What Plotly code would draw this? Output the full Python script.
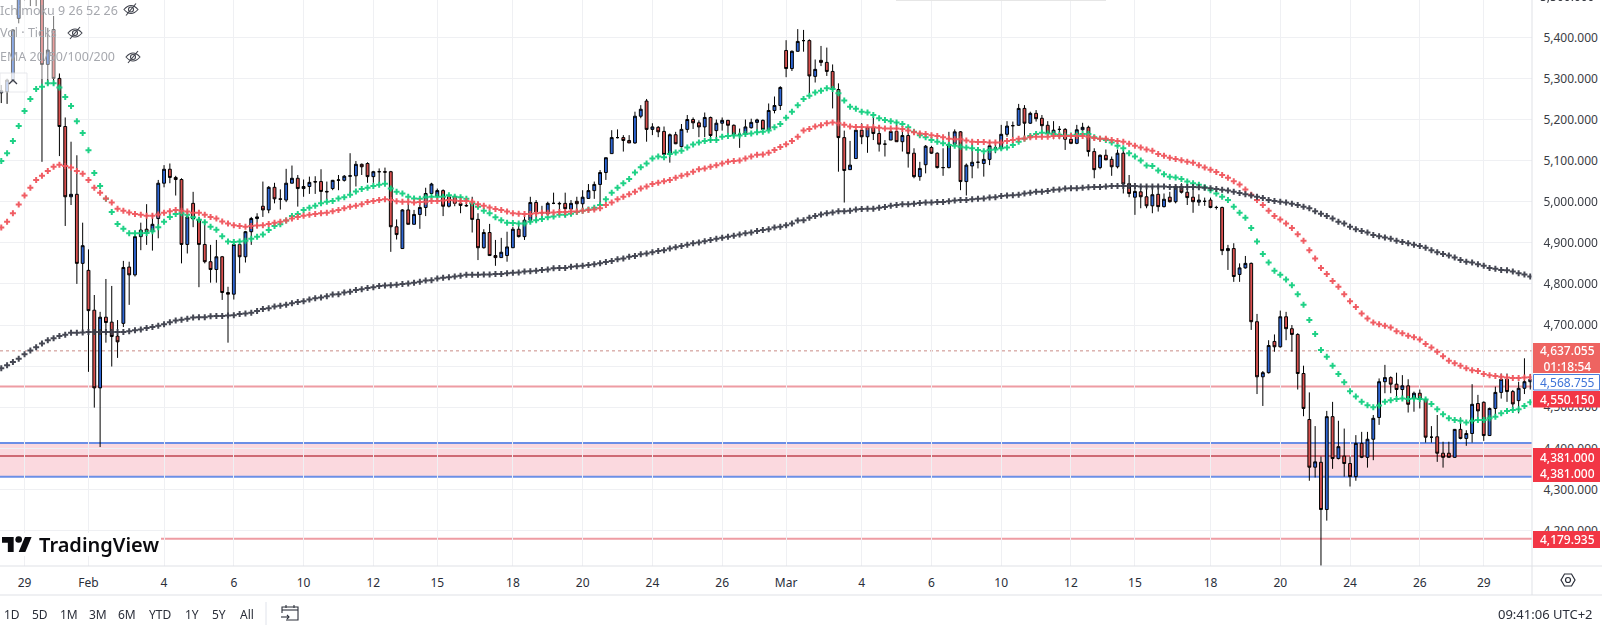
import plotly.graph_objects as go

W, H = 1602, 625
AXIS_X = 1532   # price scale starts here
AXIS_Y = 566    # time scale starts here

# candles, one bar per position
opens = [
    5265, 5268, 5296, 5446, 5500, 5580, 5510, 5520, 5334, 5419, 5300, 5183, 5012, 5018, 4850, 4833,
    4736, 4547, 4719, 4707, 4673, 4704, 4841, 4822, 4915, 4933, 4927, 4959, 5045, 5079, 5059, 5054,
    4896, 4996, 4957, 4896, 4854, 4835, 4866, 4779, 4775, 4896, 4866, 4927, 4959, 4989, 4980, 5035,
    5007, 5004, 5045, 5057, 5032, 5037, 5049, 5049, 5025, 5032, 5052, 5052, 5062, 5063, 5091, 5093,
    5061, 5073, 5073, 5073, 4939, 4886, 4980, 4945, 4969, 4986, 5020, 5014, 5027, 4989, 5013, 4996,
    4991, 4995, 4957, 4888, 4925, 4869, 4864, 4869, 4888, 4933, 4915, 4955, 4998, 4973, 4970, 4996,
    4996, 4996, 4982, 5001, 4995, 5008, 5027, 5042, 5071, 5117, 5156, 5156, 5149, 5143, 5208, 5245,
    5176, 5181, 5171, 5115, 5163, 5134, 5176, 5200, 5192, 5182, 5205, 5173, 5191, 5198, 5186, 5164,
    5165, 5180, 5193, 5198, 5176, 5222, 5234, 5368, 5324, 5366, 5392, 5392, 5305, 5344, 5339, 5317,
    5273, 5156, 5078, 5105, 5174, 5158, 5180, 5166, 5140, 5150, 5171, 5146, 5161, 5118, 5061, 5090,
    5132, 5118, 5083, 5083, 5140, 5170, 5049, 5087, 5096, 5093, 5103, 5130, 5129, 5164, 5185, 5186,
    5227, 5191, 5215, 5203, 5186, 5166, 5176, 5176, 5152, 5142, 5175, 5181, 5122, 5083, 5113, 5103,
    5085, 5118, 5044, 5011, 5024, 5012, 4990, 5018, 4988, 5011, 5000, 5037, 5023, 5011, 4999, 5001,
    5004, 4986, 4986, 4881, 4886, 4823, 4839, 4850, 4708, 4574, 4584, 4660, 4647, 4720, 4691, 4677,
    4582, 4470, 4354, 4366, 4251, 4477, 4375, 4381, 4363, 4331, 4412, 4378, 4422, 4475, 4562, 4572,
    4556, 4543, 4552, 4521, 4534, 4519, 4427, 4428, 4388, 4388, 4378, 4446, 4424, 4436, 4509, 4512,
    4431, 4497, 4536, 4568, 4538, 4516, 4546, 4562,
]
highs = [
    5284, 5300, 5420, 5540, 5600, 5620, 5600, 5560, 5423, 5452, 5312, 5205, 5146, 5113, 4949, 4884,
    4773, 4732, 4812, 4795, 4712, 4856, 4854, 4920, 4949, 4994, 4972, 5053, 5089, 5093, 5063, 5057,
    4965, 5024, 4963, 4955, 4895, 4907, 4868, 4793, 4896, 4896, 4929, 4963, 4972, 5049, 5038, 5046,
    5030, 5080, 5088, 5065, 5054, 5061, 5062, 5079, 5049, 5053, 5065, 5065, 5118, 5099, 5093, 5096,
    5075, 5081, 5083, 5075, 4957, 4982, 4996, 4980, 4998, 5034, 5046, 5032, 5030, 5018, 5015, 5012,
    5004, 5012, 4972, 4933, 4946, 4907, 4912, 4927, 4939, 4949, 4968, 5012, 5004, 4990, 5000, 5022,
    5000, 5022, 5004, 5012, 5028, 5043, 5049, 5077, 5107, 5174, 5176, 5162, 5162, 5219, 5235, 5250,
    5191, 5184, 5183, 5166, 5170, 5189, 5211, 5205, 5198, 5217, 5207, 5200, 5205, 5199, 5188, 5178,
    5200, 5202, 5202, 5200, 5239, 5256, 5281, 5393, 5368, 5420, 5418, 5395, 5346, 5379, 5375, 5334,
    5288, 5173, 5148, 5176, 5191, 5182, 5207, 5186, 5150, 5174, 5195, 5178, 5173, 5130, 5097, 5138,
    5136, 5120, 5130, 5170, 5176, 5172, 5093, 5142, 5132, 5118, 5150, 5142, 5187, 5196, 5195, 5238,
    5235, 5219, 5223, 5211, 5196, 5196, 5184, 5179, 5154, 5187, 5192, 5185, 5130, 5115, 5127, 5110,
    5127, 5127, 5065, 5038, 5038, 5041, 5038, 5041, 5020, 5024, 5041, 5045, 5041, 5036, 5018, 5010,
    5010, 4990, 4988, 4895, 4899, 4850, 4868, 4852, 4727, 4588, 4663, 4677, 4735, 4732, 4700, 4680,
    4601, 4536, 4454, 4380, 4491, 4513, 4467, 4448, 4380, 4432, 4440, 4440, 4481, 4570, 4603, 4575,
    4584, 4578, 4568, 4538, 4543, 4521, 4454, 4481, 4416, 4416, 4447, 4475, 4444, 4556, 4530, 4514,
    4499, 4550, 4582, 4582, 4542, 4562, 4619, 4581,
]
lows = [
    5240, 5238, 5290, 5434, 5490, 5476, 5476, 5097, 5284, 5284, 5111, 4941, 4992, 4800, 4683, 4586,
    4499, 4403, 4657, 4599, 4620, 4695, 4749, 4818, 4882, 4895, 4881, 4911, 5035, 5045, 5015, 4850,
    4874, 4938, 4792, 4850, 4803, 4803, 4761, 4657, 4762, 4826, 4852, 4895, 4935, 4963, 4972, 4996,
    4981, 4999, 5045, 4988, 5012, 5019, 5019, 4999, 5004, 5028, 5028, 5049, 5020, 5037, 5065, 5046,
    5046, 5046, 5048, 4878, 4908, 4885, 4945, 4945, 4934, 4965, 5012, 5008, 4965, 4986, 4989, 4972,
    4988, 4925, 4858, 4886, 4869, 4844, 4864, 4854, 4888, 4913, 4907, 4947, 4951, 4959, 4968, 4994,
    4967, 4962, 4972, 4975, 4972, 5008, 5007, 4992, 5053, 5117, 5154, 5122, 5143, 5141, 5203, 5146,
    5162, 5157, 5113, 5095, 5140, 5132, 5168, 5177, 5157, 5157, 5144, 5148, 5173, 5166, 5154, 5131,
    5158, 5178, 5170, 5174, 5174, 5215, 5223, 5303, 5318, 5365, 5365, 5264, 5290, 5330, 5306, 5227,
    5073, 4998, 5078, 5104, 5140, 5119, 5150, 5122, 5110, 5150, 5146, 5122, 5083, 5057, 5051, 5069,
    5116, 5081, 5063, 5081, 5138, 5028, 5015, 5057, 5081, 5061, 5089, 5118, 5127, 5158, 5156, 5185,
    5158, 5189, 5195, 5170, 5164, 5152, 5152, 5126, 5140, 5140, 5173, 5110, 5057, 5079, 5101, 5063,
    5081, 5020, 5011, 4968, 4984, 4984, 4972, 4976, 4986, 4998, 4996, 5020, 4992, 4973, 4990, 4990,
    4984, 4981, 4870, 4834, 4805, 4805, 4837, 4688, 4532, 4503, 4582, 4635, 4645, 4663, 4635, 4543,
    4478, 4321, 4329, 4114, 4224, 4350, 4373, 4331, 4307, 4321, 4376, 4353, 4371, 4457, 4534, 4534,
    4525, 4521, 4487, 4489, 4497, 4414, 4414, 4367, 4353, 4378, 4377, 4422, 4406, 4414, 4465, 4418,
    4430, 4477, 4521, 4513, 4495, 4485, 4532, 4543,
]
closes = [
    5270, 5296, 5418, 5500, 5580, 5510, 5520, 5334, 5369, 5300, 5183, 5012, 5018, 4850, 4893, 4735,
    4547, 4719, 4706, 4672, 4659, 4840, 4822, 4915, 4931, 4927, 4945, 5045, 5079, 5059, 5054, 4896,
    4963, 4958, 4896, 4854, 4835, 4866, 4779, 4775, 4896, 4866, 4927, 4959, 4963, 4980, 5035, 5007,
    5006, 5045, 5057, 5032, 5037, 5047, 5048, 5025, 5024, 5052, 5053, 5062, 5063, 5091, 5085, 5061,
    5073, 5073, 5072, 4939, 4920, 4980, 4945, 4969, 4986, 5020, 5043, 5027, 4989, 5012, 4996, 4991,
    4990, 4957, 4888, 4925, 4869, 4864, 4877, 4890, 4933, 4915, 4955, 4998, 4975, 4973, 4996, 4996,
    4995, 4983, 4996, 4995, 5011, 5027, 5042, 5071, 5107, 5156, 5156, 5149, 5143, 5208, 5225, 5176,
    5182, 5170, 5115, 5163, 5141, 5176, 5200, 5192, 5182, 5205, 5161, 5191, 5198, 5186, 5164, 5164,
    5182, 5193, 5199, 5176, 5222, 5234, 5278, 5324, 5366, 5390, 5392, 5306, 5322, 5339, 5317, 5273,
    5156, 5076, 5089, 5174, 5158, 5180, 5166, 5140, 5140, 5171, 5146, 5161, 5117, 5061, 5081, 5135,
    5118, 5083, 5083, 5140, 5170, 5049, 5089, 5096, 5096, 5103, 5136, 5131, 5164, 5184, 5185, 5227,
    5191, 5215, 5202, 5185, 5166, 5174, 5176, 5152, 5142, 5175, 5181, 5122, 5078, 5113, 5102, 5085,
    5118, 5043, 5020, 5025, 5012, 4990, 5017, 4988, 5006, 5000, 5037, 5023, 5010, 5000, 5004, 5001,
    4986, 4986, 4881, 4886, 4818, 4839, 4850, 4708, 4574, 4584, 4650, 4647, 4720, 4691, 4677, 4582,
    4497, 4354, 4367, 4251, 4477, 4375, 4404, 4363, 4331, 4412, 4378, 4422, 4473, 4562, 4572, 4556,
    4543, 4552, 4507, 4534, 4519, 4427, 4427, 4388, 4378, 4378, 4446, 4424, 4436, 4507, 4491, 4431,
    4497, 4536, 4568, 4538, 4508, 4546, 4562, 4568,
]

# moving averages
ema_green = [
    5099, 5118, 5148, 5184, 5221, 5250, 5274, 5280, 5288, 5288, 5278, 5255, 5233, 5196, 5167, 5125,
    5070, 5038, 5007, 4975, 4946, 4934, 4923, 4923, 4923, 4924, 4928, 4938, 4951, 4963, 4970, 4972,
    4968, 4962, 4956, 4950, 4939, 4932, 4916, 4903, 4902, 4903, 4905, 4910, 4915, 4920, 4931, 4941,
    4945, 4954, 4965, 4970, 4980, 4985, 4990, 4996, 5000, 5002, 5008, 5011, 5017, 5025, 5031, 5034,
    5038, 5041, 5044, 5032, 5024, 5020, 5012, 5008, 5007, 5011, 5012, 5012, 5012, 5016, 5012, 5011,
    5007, 4996, 4988, 4978, 4972, 4962, 4955, 4949, 4948, 4947, 4947, 4951, 4955, 4958, 4962, 4964,
    4968, 4968, 4971, 4975, 4978, 4981, 4985, 4992, 5006, 5022, 5034, 5045, 5055, 5071, 5084, 5093,
    5105, 5110, 5108, 5116, 5120, 5124, 5132, 5139, 5144, 5148, 5150, 5150, 5158, 5160, 5161, 5161,
    5165, 5166, 5169, 5170, 5173, 5181, 5189, 5204, 5219, 5235, 5250, 5258, 5266, 5270, 5276, 5274,
    5264, 5246, 5231, 5226, 5219, 5217, 5211, 5203, 5199, 5196, 5193, 5189, 5181, 5170, 5162, 5157,
    5150, 5146, 5142, 5138, 5136, 5134, 5132, 5130, 5126, 5123, 5126, 5127, 5130, 5132, 5138, 5146,
    5153, 5160, 5165, 5168, 5166, 5165, 5163, 5161, 5161, 5163, 5165, 5165, 5157, 5153, 5150, 5144,
    5136, 5130, 5118, 5110, 5100, 5088, 5087, 5076, 5067, 5061, 5059, 5055, 5049, 5045, 5041, 5035,
    5028, 5020, 5012, 5004, 4988, 4973, 4961, 4936, 4903, 4873, 4852, 4832, 4822, 4811, 4797, 4775,
    4749, 4712, 4678, 4639, 4623, 4601, 4581, 4561, 4539, 4526, 4513, 4505, 4500, 4504, 4513, 4517,
    4520, 4521, 4520, 4521, 4520, 4519, 4508, 4495, 4483, 4473, 4469, 4467, 4463, 4467, 4469, 4469,
    4473, 4477, 4485, 4491, 4493, 4495, 4503, 4512,
]
ema_red = [
    4937, 4951, 4972, 4993, 5015, 5034, 5053, 5063, 5075, 5085, 5090, 5087, 5083, 5075, 5068, 5053,
    5034, 5022, 5008, 4998, 4983, 4978, 4974, 4970, 4968, 4966, 4966, 4969, 4973, 4977, 4980, 4978,
    4976, 4973, 4973, 4968, 4963, 4959, 4952, 4947, 4943, 4941, 4939, 4941, 4942, 4943, 4946, 4949,
    4951, 4954, 4959, 4963, 4966, 4968, 4970, 4972, 4973, 4977, 4980, 4984, 4988, 4990, 4994, 4999,
    5002, 5004, 5006, 5004, 5001, 5000, 5000, 4998, 4999, 5000, 5002, 5002, 5003, 5004, 5003, 5002,
    5002, 5000, 4994, 4990, 4986, 4982, 4980, 4976, 4972, 4971, 4970, 4970, 4972, 4973, 4973, 4974,
    4975, 4975, 4976, 4976, 4978, 4980, 4981, 4984, 4992, 4998, 5006, 5012, 5018, 5024, 5032, 5037,
    5043, 5046, 5050, 5053, 5058, 5063, 5067, 5073, 5079, 5081, 5085, 5089, 5093, 5097, 5099, 5100,
    5105, 5110, 5114, 5115, 5119, 5126, 5133, 5140, 5148, 5158, 5173, 5177, 5183, 5186, 5191, 5193,
    5191, 5187, 5183, 5182, 5182, 5181, 5181, 5180, 5178, 5178, 5178, 5177, 5173, 5169, 5166, 5165,
    5162, 5160, 5157, 5153, 5152, 5152, 5149, 5146, 5145, 5145, 5144, 5144, 5144, 5148, 5150, 5153,
    5154, 5157, 5158, 5158, 5158, 5160, 5160, 5160, 5160, 5160, 5160, 5158, 5155, 5153, 5153, 5150,
    5148, 5146, 5141, 5136, 5132, 5127, 5124, 5116, 5112, 5107, 5104, 5101, 5097, 5095, 5089, 5083,
    5078, 5072, 5065, 5058, 5050, 5042, 5030, 5017, 5004, 4992, 4978, 4965, 4957, 4947, 4936, 4921,
    4905, 4882, 4862, 4839, 4824, 4807, 4793, 4775, 4758, 4744, 4728, 4716, 4706, 4702, 4698, 4694,
    4685, 4680, 4674, 4670, 4665, 4654, 4645, 4635, 4624, 4613, 4607, 4601, 4595, 4590, 4588, 4581,
    4578, 4576, 4574, 4572, 4571, 4571, 4572, 4573,
]
ema_black = [
    4595, 4602, 4610, 4618, 4629, 4638, 4646, 4655, 4663, 4668, 4673, 4676, 4681, 4681, 4682, 4683,
    4683, 4683, 4683, 4683, 4683, 4683, 4685, 4687, 4689, 4693, 4695, 4698, 4702, 4707, 4711, 4713,
    4715, 4718, 4719, 4719, 4721, 4722, 4722, 4723, 4724, 4727, 4728, 4730, 4734, 4739, 4741, 4745,
    4747, 4749, 4753, 4756, 4758, 4762, 4765, 4767, 4770, 4774, 4775, 4779, 4781, 4785, 4787, 4790,
    4792, 4795, 4796, 4797, 4798, 4800, 4801, 4803, 4805, 4808, 4809, 4813, 4815, 4816, 4818, 4820,
    4822, 4822, 4822, 4823, 4823, 4824, 4824, 4826, 4827, 4828, 4830, 4831, 4832, 4834, 4835, 4838,
    4839, 4839, 4842, 4843, 4844, 4846, 4848, 4850, 4853, 4856, 4860, 4862, 4866, 4868, 4872, 4874,
    4877, 4880, 4882, 4886, 4889, 4892, 4895, 4899, 4901, 4904, 4907, 4910, 4912, 4915, 4917, 4920,
    4923, 4925, 4929, 4931, 4933, 4937, 4939, 4943, 4947, 4954, 4955, 4961, 4965, 4969, 4972, 4974,
    4977, 4977, 4978, 4981, 4982, 4983, 4983, 4985, 4987, 4990, 4992, 4994, 4994, 4995, 4997, 4998,
    4998, 4999, 4999, 5001, 5003, 5004, 5004, 5006, 5007, 5008, 5010, 5011, 5014, 5015, 5016, 5017,
    5020, 5022, 5024, 5024, 5026, 5029, 5030, 5032, 5033, 5033, 5034, 5035, 5036, 5036, 5037, 5038,
    5038, 5038, 5038, 5038, 5037, 5037, 5037, 5037, 5037, 5036, 5036, 5036, 5036, 5036, 5035, 5034,
    5033, 5031, 5029, 5027, 5024, 5021, 5018, 5015, 5012, 5009, 5004, 5002, 5000, 4998, 4995, 4992,
    4988, 4984, 4977, 4971, 4965, 4959, 4951, 4947, 4939, 4933, 4929, 4925, 4919, 4916, 4913, 4910,
    4905, 4902, 4899, 4895, 4892, 4888, 4882, 4877, 4873, 4869, 4864, 4858, 4854, 4852, 4848, 4844,
    4839, 4837, 4834, 4833, 4830, 4826, 4823, 4818,
]

# time scale
date_pos = [4, 15, 28, 40, 52, 64, 75, 88, 100, 112, 124, 135, 148, 160, 172, 184, 195, 208, 220, 232, 244, 255]
date_labels = ["29", "Feb", "4", "6", "10", "12", "15", "18", "20", "24", "26", "Mar",
               "4", "6", "10", "12", "15", "18", "20", "24", "26", "29"]
price_ticks = [4200, 4300, 4400, 4500, 4600, 4700, 4800, 4900, 5000, 5100, 5200, 5300, 5400]

# drawn levels
last_close = 4637.055
level_top_red = 4550.15
zone_top = 4413
zone_bottom = 4331
zone_mid = 4381
level_low = 4179.935

buttons = ["1D", "5D", "1M", "3M", "6M", "YTD", "1Y", "5Y", "All"]
button_x = [12, 40, 69, 98, 127, 160, 192, 219, 247]

FONT = "Noto Sans"
idx = list(range(264))


def px(x):
    return x / W


def py(y):
    return 1 - y / H


def path(points, close=False):
    # pixel points -> svg path in paper coordinates
    d = "M" + " L".join(f"{px(x):.5f},{py(y):.5f}" for x, y in points)
    return d + (" Z" if close else "")


fig = go.Figure()

for vals, col in [(ema_green, "#14cf80"), (ema_red, "#f0555c"), (ema_black, "#3b3e4a")]:
    fig.add_trace(go.Scatter(x=idx, y=vals, mode="markers", opacity=0.95,
                             marker=dict(symbol="cross", size=5, color=col, line=dict(width=0))))

fig.add_trace(go.Candlestick(
    x=idx, open=opens, high=highs, low=lows, close=closes,
    increasing=dict(fillcolor="#2e66d4", line=dict(color="#000000", width=1)),
    decreasing=dict(fillcolor="#d9504f", line=dict(color="#000000", width=1)),
    whiskerwidth=0,
))

shapes = []


def hline(level, color, width=2, dash="solid", x0=0):
    shapes.append(dict(type="line", xref="paper", yref="y", x0=px(x0), x1=px(AXIS_X), y0=level, y1=level,
                       layer="below", line=dict(color=color, width=width, dash=dash)))


def box(x0, y0, x1, y1, fill, line="rgba(0,0,0,0)", opacity=1, width=1):
    shapes.append(dict(type="rect", xref="paper", yref="paper", x0=px(x0), x1=px(x1), y0=py(y0), y1=py(y1),
                       fillcolor=fill, opacity=opacity, line=dict(color=line, width=width)))


def stroke(points, color, width=1.2, close=False):
    shapes.append(dict(type="path", xref="paper", yref="paper", path=path(points, close),
                       line=dict(color=color, width=width)))


# zone between the blue lines
shapes.append(dict(type="rect", xref="paper", yref="y", x0=0, x1=px(AXIS_X), y0=zone_bottom, y1=zone_top,
                   layer="below", fillcolor="#fbd9df", line=dict(width=0)))
hline(zone_top, "#6b8fe6")
hline(zone_bottom, "#6b8fe6")
hline(zone_mid, "#cf6a74")
hline(level_top_red, "#ee9ca3")
hline(level_low, "#ee9ca3")
hline(last_close, "#c98a86", width=1, dash="dot")

# scale separators
shapes.append(dict(type="line", xref="paper", yref="paper", x0=0, x1=1, y0=py(AXIS_Y), y1=py(AXIS_Y),
                   line=dict(color="#dfe1e6", width=1)))
shapes.append(dict(type="line", xref="paper", yref="paper", x0=0, x1=1, y0=py(595), y1=py(595),
                   line=dict(color="#dfe1e6", width=1)))
shapes.append(dict(type="line", xref="paper", yref="paper", x0=px(AXIS_X), x1=px(AXIS_X), y0=py(595), y1=1,
                   line=dict(color="#dfe1e6", width=1)))
shapes.append(dict(type="line", xref="paper", yref="paper", x0=px(266), x1=px(266), y0=py(602), y1=0,
                   line=dict(color="#e0e3eb", width=1)))

# sliver of a popup at the top edge
box(896, 0, 1106, 1, "#e6e6e6")

# legend backdrop and collapse button
box(0, 0, 57, 79, "#ffffff", opacity=0.45)
box(0, 73, 27, 92, "#ffffff", line="#dfe1e6", opacity=0.75)
stroke([(9, 84), (13, 80), (17, 84)], "#3b3e4a", 1.3)

# eye icons
for cx, cy in [(131, 9.5), (75, 33), (133, 57)]:
    shapes.append(dict(type="path", xref="paper", yref="paper",
                       path=f"M{px(cx-7):.5f},{py(cy):.5f} Q{px(cx):.5f},{py(cy-8):.5f} {px(cx+7):.5f},{py(cy):.5f} "
                            f"Q{px(cx):.5f},{py(cy+8):.5f} {px(cx-7):.5f},{py(cy):.5f} Z",
                       line=dict(color="#3f424c", width=1.1)))
    shapes.append(dict(type="circle", xref="paper", yref="paper", x0=px(cx-2.5), x1=px(cx+2.5),
                       y0=py(cy+2.5), y1=py(cy-2.5), line=dict(color="#3f424c", width=1.1)))
    stroke([(cx-5, cy+6), (cx+5, cy-6)], "#3f424c", 1.1)

# logo
box(0, 533, 161, 556, "#ffffff")
logo_s = 30 / 36
lx, ly = 2, 537 - 4 * logo_s
stroke([(lx + a * logo_s, ly + b * logo_s) for a, b in
        [(14, 22), (7, 22), (7, 11), (0, 11), (0, 4), (14, 4)]], "#0b0b0f", 0, close=True)
shapes[-1]["fillcolor"] = "#0b0b0f"
stroke([(lx + a * logo_s, ly + b * logo_s) for a, b in
        [(28, 22), (20, 22), (27.5, 4), (35.5, 4)]], "#0b0b0f", 0, close=True)
shapes[-1]["fillcolor"] = "#0b0b0f"
shapes.append(dict(type="circle", xref="paper", yref="paper", fillcolor="#0b0b0f", line=dict(width=0),
                   x0=px(lx + 16 * logo_s), x1=px(lx + 24 * logo_s),
                   y0=py(ly + 11 * logo_s), y1=py(ly + 3 * logo_s)))

# settings hexagon
stroke([(1561, 580), (1564.5, 574), (1571.5, 574), (1575, 580), (1571.5, 586), (1564.5, 586)], "#2a2e39", 1.2, close=True)
shapes.append(dict(type="circle", xref="paper", yref="paper", x0=px(1565.5), x1=px(1570.5), y0=py(582.5), y1=py(577.5),
                   line=dict(color="#2a2e39", width=1.2)))

# calendar icon
stroke([(286, 620), (298, 620), (298, 607), (282, 607), (282, 613)], "#2a2e39", 1.1)
stroke([(282, 610), (298, 610)], "#2a2e39", 1.1)
stroke([(286, 605), (286, 608)], "#2a2e39", 1.1)
stroke([(294, 605), (294, 608)], "#2a2e39", 1.1)
stroke([(281, 617), (289, 617)], "#2a2e39", 1.1)
stroke([(287, 615), (289, 617), (287, 619)], "#2a2e39", 1.1)

# price tags
box(1533, 343, 1600, 373, "#ee6461")
box(1533.5, 374.5, 1599.5, 390, "#ffffff", line="#4a7fdc", width=1)
box(1533, 391, 1600, 407.5, "#f23645")
box(1533, 448, 1600, 482, "#f23645")
box(1533, 531, 1600, 548, "#f23645")


def label(x, y, text, color="#131722", size=12, anchor="center", weight=None):
    fig.add_annotation(xref="paper", yref="paper", x=px(x), y=py(y), text=text, showarrow=False,
                       xanchor=anchor, yanchor="middle", borderpad=0, borderwidth=0,
                       font=dict(family=FONT, size=size, color=color, weight=weight))


label(1567, 358, f"{last_close:,.3f}<br>01:18:54", "#ffffff", 12, weight=500)
label(1567, 382, "4,568.755", "#3f74d8", 12)
label(1567, 399, f"{level_top_red:,.3f}", "#ffffff", 12, weight=500)
label(1567, 465, f"{zone_mid:,.3f}<br>{zone_mid:,.3f}", "#ffffff", 12, weight=500)
label(1567, 539, f"{level_low:,.3f}", "#ffffff", 12, weight=500)
label(1567, -4, "5,500.000", "#3a3d45", 12)

label(0, 10, "Ichimoku 9 26 52 26", "#a6a8ae", 12.5, "left")
label(0, 33, "Vol · Ticks", "#a6a8ae", 12.5, "left")
label(0, 57, "EMA 20/50/100/200", "#a6a8ae", 12.5, "left")
label(39, 544, "TradingView", "#0b0b0f", 20, "left", 600)

for text, x in zip(buttons, button_x):
    label(x, 614, text, "#2a2e39", 12)
label(1593, 614, "09:41:06 UTC+2", "#2a2e39", 13, "right")

fig.update_layout(
    width=W, height=H, margin=dict(l=0, r=0, t=0, b=0, pad=0), autosize=False,
    paper_bgcolor="#ffffff", plot_bgcolor="#ffffff", showlegend=False, shapes=shapes,
)
fig.update_xaxes(
    domain=[0, AXIS_X / W], range=[-0.22, 263.3], type="linear", rangeslider_visible=False,
    tickmode="array", tickvals=date_pos, ticktext=date_labels,
    showgrid=True, gridcolor="#eff0f3", gridwidth=1, zeroline=False, showline=False,
    ticks="outside", ticklen=6, tickcolor="rgba(0,0,0,0)",
    tickfont=dict(family=FONT, size=12, color="#2a2e39"),
)
fig.update_yaxes(
    domain=[1 - AXIS_Y / H, 1], range=[4113.6, 5490.8], side="right", anchor="x",
    tickmode="array", tickvals=price_ticks, tickformat=",.3f",
    showgrid=True, gridcolor="#eff0f3", gridwidth=1, zeroline=False, showline=False,
    ticks="outside", ticklen=8, tickcolor="rgba(0,0,0,0)",
    tickfont=dict(family=FONT, size=12, color="#3a3d45"),
)

fig.write_html("out.html", config=dict(displayModeBar=False),
               post_script="document.body.style.margin='0';document.documentElement.style.overflow='hidden';")
